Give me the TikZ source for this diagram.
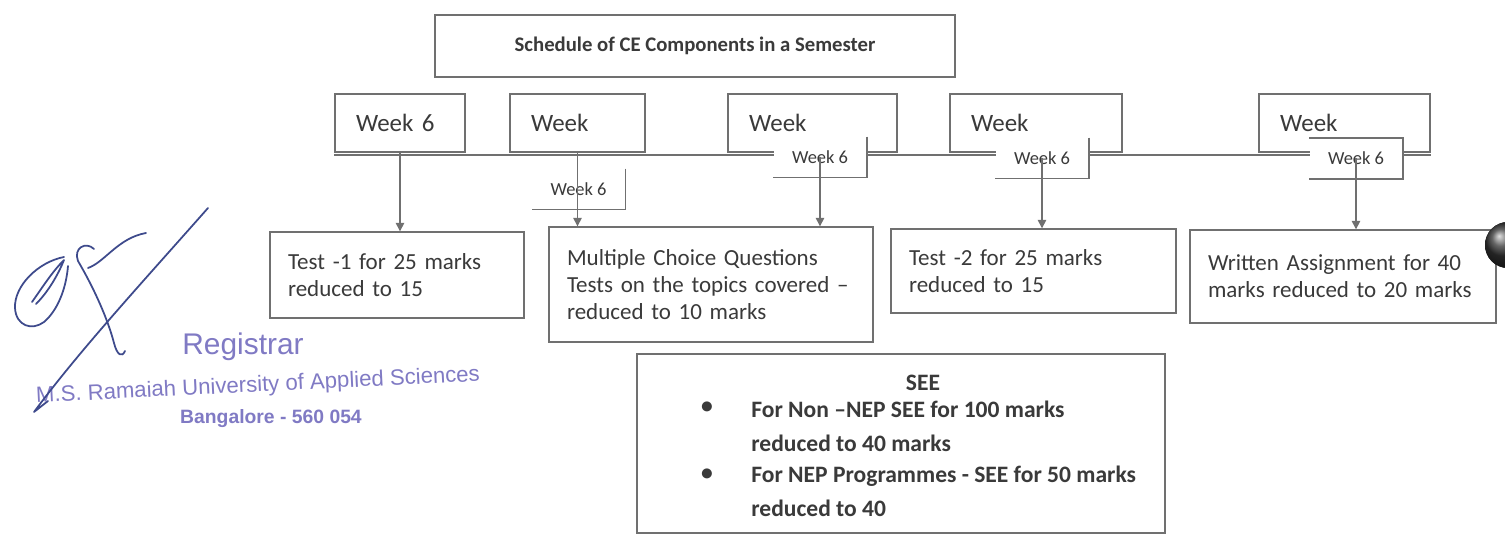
\documentclass[tikz,border=0pt]{standalone}
\usepackage{fontspec}
\setmainfont{Carlito}
\newfontfamily\stampfont{Liberation Sans}
\usetikzlibrary{arrows.meta, calc}
\definecolor{linegray}{RGB}{112,112,112}
\definecolor{textgray}{RGB}{58,58,58}
\definecolor{stampblue}{RGB}{128,122,196}
\definecolor{inkblue}{RGB}{62,74,140}

\begin{document}
\begin{tikzpicture}[x=0.02cm, y=-0.02cm,
    cebox/.style={draw=linegray, line width=0.8pt, text=textgray, align=left,
                  inner xsep=0.36cm, inner ysep=0pt, font=\fontsize{13.1}{15.3}\selectfont},
    wk/.style={draw=linegray, line width=0.8pt, text=textgray, align=left,
               inner xsep=0.42cm, minimum height=1.16cm, font=\fontsize{14.2}{16}\selectfont},
    wtag/.style={fill=white, text=textgray, minimum width=1.86cm, minimum height=0.8cm,
                 inner sep=0pt, font=\fontsize{10.5}{12}\selectfont},
    seetxt/.style={text=textgray, inner sep=0pt, font=\bfseries\fontsize{13.4}{19.5}\selectfont},
    arr/.style={-{Triangle[length=0.17cm, width=0.17cm]}, draw=linegray, fill=linegray, line width=0.8pt},
    rim/.style={draw=linegray, line width=0.8pt},
    ink/.style={draw=inkblue, line width=1pt, line cap=round, line join=round},
    stamp/.style={text=stampblue, inner sep=0pt},
  ]
    \fill[white] (0,0) rectangle (1505,537);
    \useasboundingbox (0,0) rectangle (1505,537);

    \node[draw=linegray, line width=0.8pt, text=textgray, minimum width=10.4cm, minimum height=1.24cm,
          font=\bfseries\fontsize{11.8}{14}\selectfont] (title) at (695,46) {Schedule of CE Components in a Semester};

    % week row
    \node[wk, text width=1.76cm] (w1) at (400,123) {Week 6};
    \node[wk, text width=1.86cm] (w2) at (577.5,123) {Week};
    \node[wk, text width=2.54cm] (w3) at (812.5,123) {Week};
    \node[wk, text width=2.60cm] (w4) at (1036,123) {Week};
    \node[wk, text width=2.58cm] (w5) at (1344.5,123) {Week};
    \draw[rim, line width=1pt] ($(w1.south west)+(0,2)$) -- ($(w5.south east)+(0,2)$);

    \node[wtag] (s1) at (578.5,189) {Week 6};
    \node[wtag] (s2) at (820,157) {Week 6};
    \node[wtag] (s3) at (1042,158) {Week 6};
    \node[wtag] (s4) at (1356,158.5) {Week 6};
    \draw[rim] (s1.north east) -- (s1.south east) -- (s1.south west);
    \draw[rim] (s2.north east) -- (s2.south east) -- (s2.south west);
    \draw[rim] (s3.north east) -- (s3.south east) -- (s3.south west);
    \draw[rim] (s4.north west) -- (s4.north east) -- (s4.south east) -- (s4.south west);

    % components
    \node[cebox, text width=4.36cm, minimum height=1.72cm] (t1) at (397,275) {Test -1 for 25 marks\\reduced to 15};
    \node[cebox, text width=5.76cm, minimum height=2.3cm] (mcq) at (711,284.5) {Multiple Choice Questions\\Tests on the topics covered –\\reduced to 10 marks};
    \node[cebox, text width=4.98cm, minimum height=1.68cm] (t2) at (1033.5,271) {Test -2 for 25 marks\\reduced to 15};
    \node[cebox, text width=5.40cm, minimum height=1.86cm] (wa) at (1343,276.5) {Written Assignment for 40\\marks reduced to 20 marks};

    \draw[arr] (w1.south) -- (w1.south |- t1.north);
    \draw[arr] (w2.south) -- (w2.south |- mcq.north);
    \draw[arr] (s2.center) -- (s2.center |- mcq.north);
    \draw[arr] (s3.center) -- (s3.center |- t2.north);
    \draw[arr] (s4.center) -- (s4.center |- wa.north);

    % SEE
    \node[draw=linegray, line width=0.8pt, minimum width=10.56cm, minimum height=3.58cm] (see) at (901,443.5) {};
    \node[seetxt] (seeh) at (923,383) {SEE};
    \node[seetxt] (b1) at (707,408) {\textbullet};
    \node[seetxt, anchor=west, align=left] (i1) at (751,426) {For Non –NEP SEE for 100 marks\\reduced to 40 marks};
    \node[seetxt] (b2) at (707,475) {\textbullet};
    \node[seetxt, anchor=west, align=left] (i2) at (751,491.5) {For NEP Programmes - SEE for 50 marks\\reduced to 40};

    % stamp and signature
    \node[stamp, font=\stampfont\fontsize{17}{20}\selectfont] (reg) at (243,347) {Registrar};
    \node[stamp, rotate=2.8, font=\stampfont\fontsize{12.6}{15}\selectfont] (univ) at (258,386) {M.S. Ramaiah University of Applied Sciences};
    \node[stamp, font=\stampfont\bfseries\fontsize{11}{13}\selectfont] (blr) at (271,419) {Bangalore - 560 054};

    \draw[ink] (208,208) .. controls (140,285) and (80,350) .. (34,412) -- (48,401);
    \draw[ink] (64,257) .. controls (38,262) and (14,286) .. (15,308) .. controls (16,326) and (32,331) .. (44,322)
               .. controls (57,311) and (66,290) .. (68,266);
    \draw[ink] (32,302) .. controls (42,288) and (52,272) .. (64,260) .. controls (58,275) and (48,292) .. (36,304);
    \draw[ink] (94,249) .. controls (86,241) and (73,248) .. (78,261) .. controls (95,290) and (108,320) .. (114,343)
               .. controls (117,355) and (122,358) .. (125,351);
    \draw[ink] (88,268) .. controls (105,262) and (118,238) .. (146,233);

    \fill[ball color=black!80] (1508,245) circle (23);
\end{tikzpicture}
\end{document}
